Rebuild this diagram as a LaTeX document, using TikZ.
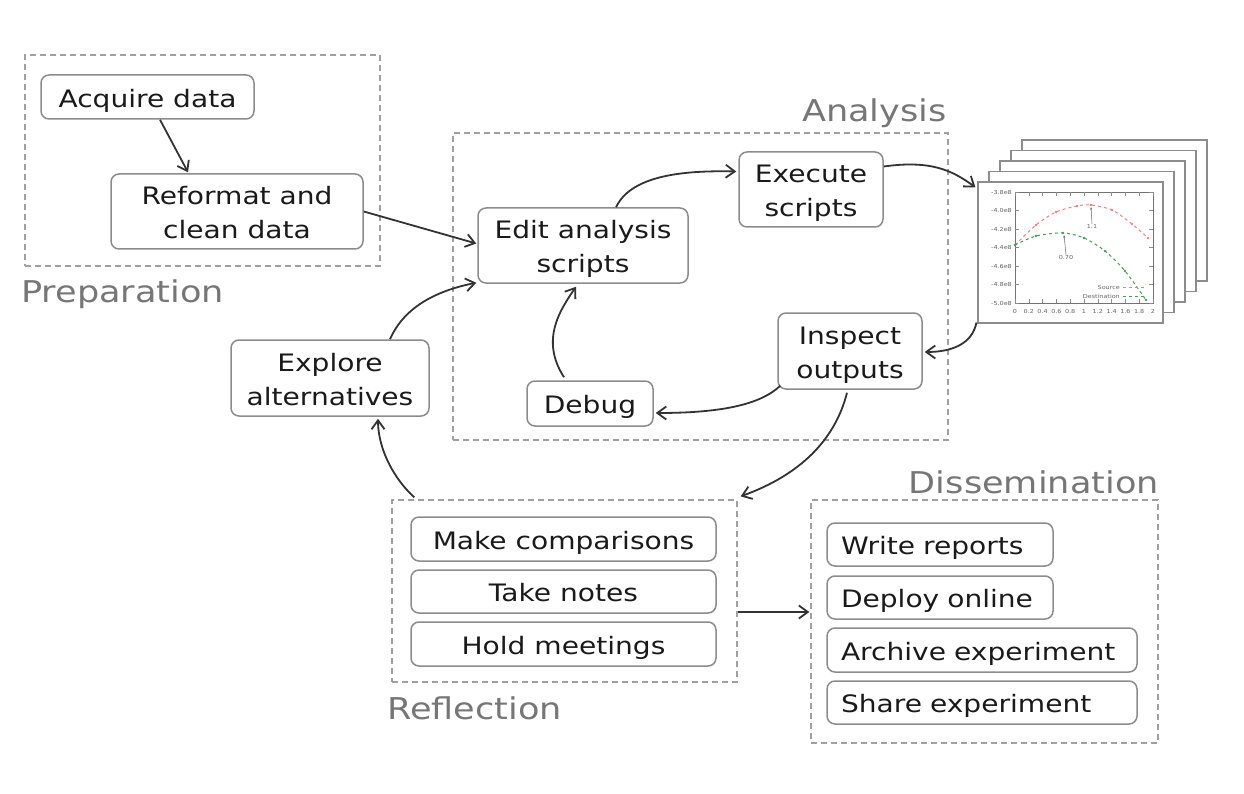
\documentclass[tikz,border=0pt]{standalone}
\usepackage{fontspec}
\setmainfont{DejaVu Sans}[FakeStretch=1.17]
\usetikzlibrary{arrows.meta,calc}
\definecolor{boxline}{HTML}{8C8C8C}
\definecolor{dashline}{HTML}{A0A0A0}
\definecolor{titlegray}{HTML}{767676}
\definecolor{txt}{HTML}{1A1A1A}
\definecolor{arr}{HTML}{333333}
\definecolor{srcred}{HTML}{F08080}
\definecolor{dstgreen}{HTML}{4A9A5A}
\newcommand{\boxstrut}{\rule[-6pt]{0pt}{32.5pt}}
\begin{document}
\begin{tikzpicture}[x=1pt,y=-1pt,
  box/.style={draw=boxline, line width=1.5pt, rounded corners=8pt, fill=white, text=txt,
              font=\fontsize{24}{34}\selectfont, align=center, inner sep=0pt,
              execute at begin node={\boxstrut}, execute at end node={\boxstrut}},
  lbox/.style={box, align=left},
  group/.style={draw=dashline, line width=1.3pt, dash pattern=on 6pt off 4pt, inner sep=0pt},
  grouptitle/.style={text=titlegray, font=\fontsize{30}{36}\selectfont, inner sep=0pt},
  link/.style={draw=arr, line width=1.8pt, -{Straight Barb[length=9pt,width=13pt]}},
  frame/.style={draw=boxline, line width=1.1pt, fill=white, inner sep=0pt,
                minimum width=185pt, minimum height=141pt},
  tiny/.style={font=\fontsize{5.5}{6}\selectfont, text=black!60, inner sep=0pt},
]
\useasboundingbox (0,0) rectangle (1244,794);

% ---------- group boxes ----------
\node[group, minimum width=355pt, minimum height=211pt] (prep) at (202.5,160.5) {};
\node[group, minimum width=495pt, minimum height=307pt] (ana)  at (700.5,286.5) {};
\node[group, minimum width=345pt, minimum height=182pt] (refl) at (564.5,591) {};
\node[group, minimum width=347pt, minimum height=243pt] (diss) at (984.5,621.5) {};

\node[grouptitle, anchor=base west] (tprep) at (21,302) {Preparation};
\node[grouptitle, anchor=base east] (tana)  at (947,122) {Analysis};
\node[grouptitle, anchor=base west] (trefl) at (387,719) {Reflection};
\node[grouptitle, anchor=base east] (tdiss) at (1159,493) {Dissemination};

% ---------- process nodes ----------
\node[box, minimum width=213pt, minimum height=44pt] (acq)   at (147.5,97)  {Acquire data};
\node[box, minimum width=252pt, minimum height=75pt] (ref)   at (237,211.5) {\boxstrut Reformat and\\clean data};
\node[box, minimum width=210pt, minimum height=75pt] (edit)  at (583,245.5) {\boxstrut Edit analysis\\scripts};
\node[box, minimum width=144pt, minimum height=75pt] (exe)   at (811,189.5) {\boxstrut Execute\\scripts};
\node[box, minimum width=144pt, minimum height=76pt] (insp)  at (850,351)   {\boxstrut Inspect\\outputs};
\node[box, minimum width=126pt, minimum height=45pt] (debug) at (590,403.5) {Debug};
\node[box, minimum width=198pt, minimum height=76pt] (expl)  at (330,378)   {\boxstrut Explore\\alternatives};

\node[box, minimum width=305pt, minimum height=44pt] (make)  at (563.5,539)   {Make comparisons};
\node[box, minimum width=305pt, minimum height=43pt] (notes) at (563.5,591.5) {Take notes};
\node[box, minimum width=305pt, minimum height=44pt] (hold)  at (563.5,644)   {Hold meetings};

\node[lbox, minimum width=226pt, minimum height=43pt, text width=198pt] (write)   at (940,544.5) {Write reports};
\node[lbox, minimum width=226pt, minimum height=43pt, text width=198pt] (deploy)  at (940,597.5) {Deploy online};
\node[lbox, minimum width=310pt, minimum height=44pt, text width=282pt] (archive) at (982,650)   {Archive experiment};
\node[lbox, minimum width=310pt, minimum height=43pt, text width=282pt] (share)   at (982,702.5) {Share experiment};

% ---------- stack of plots ----------
\foreach \k in {4,3,2,1}{
  \node[frame] (pf\k) at ({1070.5+11*\k},{252.5-10.5*\k}) {};
}
\node[frame] (plot) at (1070.5,252.5) {};
\draw[black!55, line width=0.6pt] (1015,192) rectangle (1153,303);
\foreach \v [count=\i from 0] in {-3.8e8,-4.0e8,-4.2e8,-4.4e8,-4.6e8,-4.8e8,-5.0e8}{
  \node[tiny, anchor=east] (yl\i) at (1012,{192+18.5*\i}) {\v};
  \draw[black!45, line width=0.4pt] (1015,{192+18.5*\i}) -- (1019,{192+18.5*\i});
  \draw[black!45, line width=0.4pt] (1153,{192+18.5*\i}) -- (1149,{192+18.5*\i});
}
\foreach \v [count=\i from 0] in {0,0.2,0.4,0.6,0.8,1,1.2,1.4,1.6,1.8,2}{
  \node[tiny] (xl\i) at ({1015+13.8*\i},311) {\v};
  \draw[black!45, line width=0.4pt] ({1015+13.8*\i},303) -- ({1015+13.8*\i},299);
  \draw[black!45, line width=0.4pt] ({1015+13.8*\i},192) -- ({1015+13.8*\i},196);
}
\draw[srcred, line width=1pt, dashed] plot[smooth] coordinates
  {(1015,245) (1036,225) (1056,212) (1077,206) (1091,205) (1112,210) (1132,224) (1148,238)};
\foreach \x/\y in {1015/245,1036/225,1056/212,1077/206,1091/205,1112/210,1132/224,1148/238}
  \fill[srcred] (\x,\y) circle (1.3pt);
\draw[dstgreen, line width=1pt, dashed] plot[smooth] coordinates
  {(1015,245) (1036,236) (1063,233) (1084,238) (1105,251) (1125,271) (1146,300)};
\foreach \x/\y in {1015/245,1036/236,1063/233,1084/238,1105/251,1125/271,1146/300}
  \fill[dstgreen] (\x,\y) circle (1.3pt);
\node[tiny] (lab11) at (1092,226) {1.1};
\node[tiny] (lab70) at (1066,257) {0.70};
\draw[black!60, line width=0.5pt, -{Stealth[length=3pt,width=2pt]}] (lab11.north) -- (1091,207);
\draw[black!60, line width=0.5pt, -{Stealth[length=3pt,width=2pt]}] (lab70.north) -- (1064,235);
\node[tiny, anchor=east] (lsrc) at (1120,287) {Source};
\node[tiny, anchor=east] (ldst) at (1120,296) {Destination};
\draw[srcred, line width=0.8pt, dashed] (1123,287) -- (1146,287);
\draw[dstgreen, line width=0.8pt, dashed] (1123,296) -- (1146,296);

% ---------- connectors ----------
\draw[link] ($(acq.south)+(12.5,0)$) -- ($(ref.north)+(-49,-1)$);
\draw[link] (ref.east) -- ($(edit.west)+(-1,-2)$);
\draw[link] ($(edit.north)+(33,0)$) .. controls (630,178) and (675,170) .. ($(exe.west)+(-2,-18)$);
\draw[link] ($(exe.east)+(0,-23)$) .. controls (930,160) and (952,170) .. ($(plot.north west)+(-2,6)$);
\draw[link] ($(plot.south west)+(-1,-1)$) .. controls (972,345) and (950,352) .. ($(insp.east)+(2,1)$);
\draw[link] ($(insp.south west)+(3,-4)$) .. controls (760,405) and (720,413) .. ($(debug.east)+(2,9.5)$);
\draw[link] ($(debug.north)+(-26,-3)$) .. controls (540,340) and (560,310) .. ($(edit.south)+(-7,3)$);
\draw[link] ($(expl.north)+(60,0)$) .. controls (405,305) and (440,290) .. ($(edit.south west)+(-1,-1)$);
\draw[link] ($(refl.north west)+(23,-2)$) .. controls (395,480) and (378,450) .. ($(expl.south)+(48,2)$);
\draw[link] ($(insp.south)+(-3,3)$) .. controls (835,440) and (800,475) .. ($(refl.north east)+(3,-3)$);
\draw[link] ($(refl.east)+(0,21)$) -- ($(diss.west)+(-1,-9.5)$);
\end{tikzpicture}
\end{document}
